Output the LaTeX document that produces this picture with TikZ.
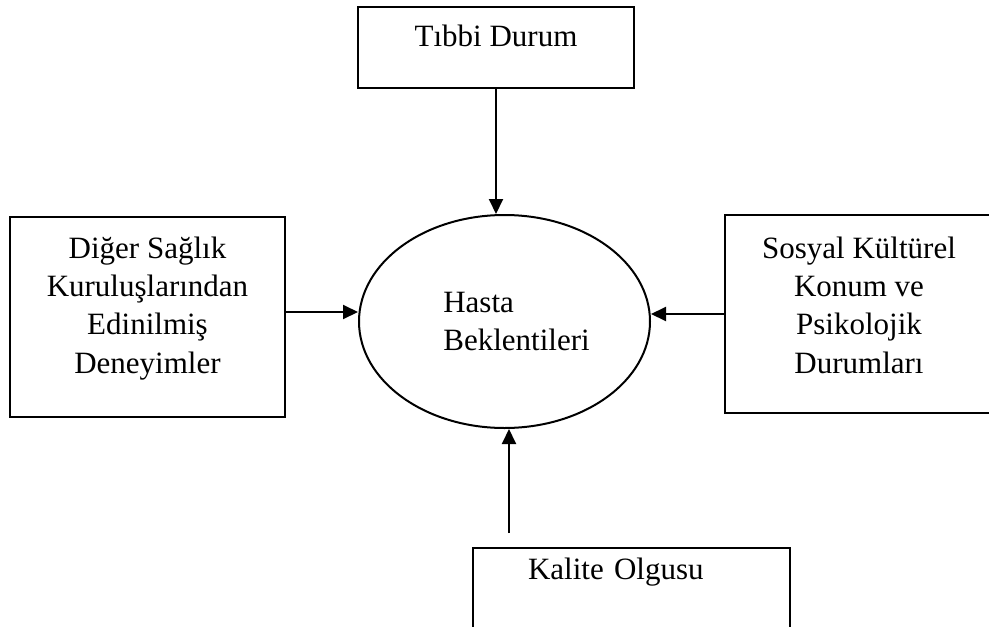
\documentclass[tikz,border=0pt]{standalone}
\usepackage{fontspec}
\setmainfont{Liberation Serif}
\usepackage{tikz}
\usetikzlibrary{arrows.meta,positioning,calc,shapes.geometric}
\tikzset{
  flowarrow/.style={-{Triangle[length=15pt,width=14pt]}, line width=2pt, draw=black},
  factor/.style={draw=black, line width=2pt, align=center, inner sep=0pt,
    font=\fontsize{31}{38.3}\selectfont},
  expectation/.style={ellipse, draw=black, line width=2pt, align=left, inner sep=0pt,
    font=\fontsize{31}{38.3}\selectfont}
}

\begin{document}
\begin{tikzpicture}[x=1pt, y=-1pt]
    \useasboundingbox (0,0) rectangle (989,627);

    \node[expectation, minimum width=291pt, minimum height=213pt] (hasta) at (504.5,321.5)
        {\hspace*{24pt}Hasta\\\hspace*{24pt}Beklentileri};
    \node[factor, minimum width=276pt, minimum height=81pt,
        text height=24pt, text depth=27pt] (tibbi) at (496,47.5) {Tıbbi Durum};
    \node[factor, minimum width=275pt, minimum height=200pt,
        text height=140pt, text depth=28pt] (diger) at (147.5,317)
        {Diğer Sağlık\\Kuruluşlarından\\Edinilmiş\\Deneyimler};
    \node[factor, minimum width=268pt, minimum height=198pt,
        text height=140pt, text depth=22pt] (sosyal) at (859,314)
        {Sosyal Kültürel\\Konum ve\\Psikolojik\\Durumları};
    \node[factor, anchor=north, text width=207pt, align=left, inner xsep=55pt,
        minimum height=81pt, text height=24pt, text depth=43pt] (kalite) at (631.5,547)
        {Kalite Olgusu};

    \draw[flowarrow] (tibbi.south) -- (tibbi.south |- hasta.north);
    \draw[flowarrow] ([yshift=5pt]diger.east) -- ([yshift=5pt]diger.east -| hasta.west);
    \draw[flowarrow] (sosyal.west) -- (sosyal.west -| hasta.east);
    \draw[flowarrow] ([xshift=4.5pt,yshift=14pt]kalite.north -| hasta.south) -- ([xshift=4.5pt]hasta.south);
\end{tikzpicture}
\end{document}
